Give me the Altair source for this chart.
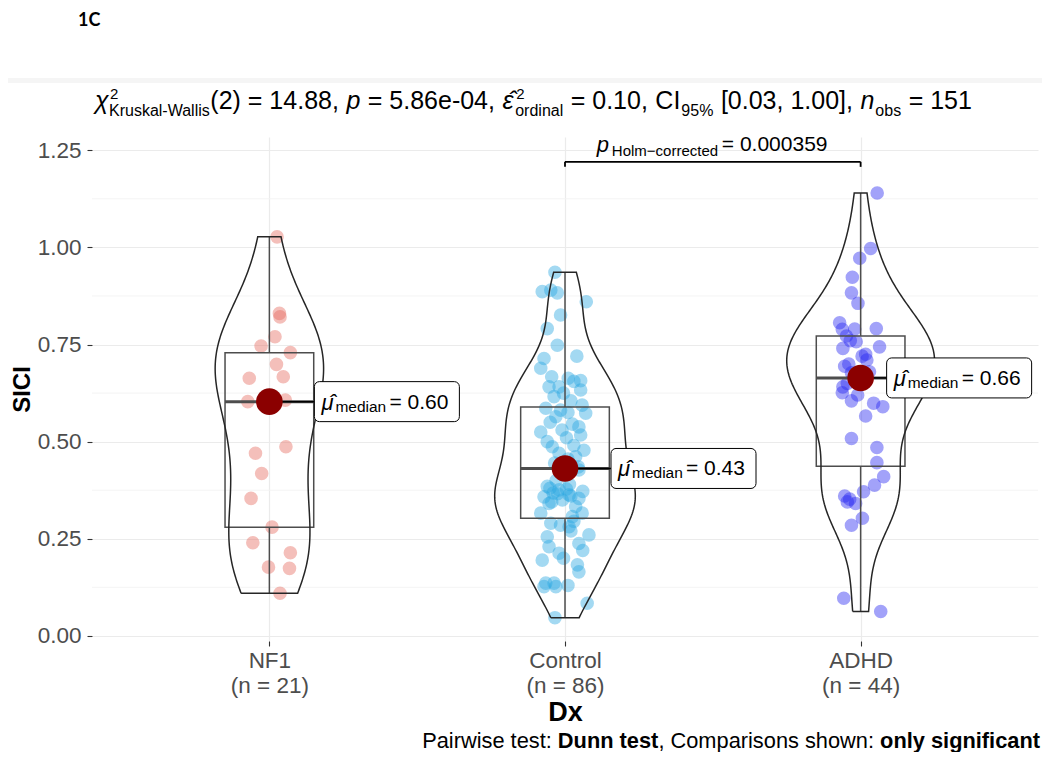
import altair as alt
import numpy as np
import pandas as pd

# ---------------- data ----------------
categories = ["NF1", "Control", "ADHD"]

nf1_sici = [1.027, 0.830, 0.821, 0.770, 0.746, 0.729, 0.699, 0.663, 0.667, 0.603, 0.607,
            0.487, 0.470, 0.418, 0.354, 0.280, 0.240, 0.214, 0.177, 0.174, 0.110]
nf1_jitter = [0.026, 0.034, 0.036, 0.019, -0.028, 0.071, 0.024, -0.068, 0.047, -0.073, 0.054,
              0.056, -0.047, -0.026, -0.062, 0.009, -0.056, 0.071, -0.003, 0.068, 0.036]

control_sici = [0.936, 0.886, 0.890, 0.883, 0.860, 0.826, 0.791, 0.748, 0.714, 0.689, 0.667,
                0.663, 0.657, 0.641, 0.641, 0.633, 0.616, 0.594, 0.655, 0.625, 0.605, 0.720,
                0.586, 0.581, 0.573, 0.564, 0.525, 0.538, 0.517, 0.487, 0.478, 0.461, 0.575,
                0.550, 0.545, 0.530, 0.510, 0.500, 0.490, 0.470, 0.455, 0.445, 0.435,
                0.427, 0.380, 0.376, 0.358, 0.363, 0.354, 0.341, 0.350, 0.316, 0.333, 0.316,
                0.307, 0.400, 0.390, 0.385, 0.372, 0.368, 0.360, 0.366, 0.378, 0.345,
                0.290, 0.281, 0.255, 0.260, 0.238, 0.230, 0.213, 0.195, 0.183, 0.165, 0.136,
                0.136, 0.127, 0.127, 0.084, 0.047, 0.295, 0.285, 0.270, 0.220, 0.200, 0.130]
control_jitter = [-0.034, -0.077, -0.048, -0.026, 0.072, -0.015, -0.060, -0.026, -0.071, -0.082, -0.045,
                  0.011, 0.053, -0.054, -0.020, 0.053, -0.037, 0.058, 0.030, -0.005, 0.020, 0.040,
                  -0.065, -0.015, 0.070, -0.031, -0.082, 0.047, 0.053, -0.043, 0.064, 0.036, 0.010,
                  -0.050, 0.025, -0.010, 0.005, -0.060, 0.030, -0.020, 0.010, -0.035, 0.045,
                  0.047, -0.051, -0.020, -0.071, 0.014, 0.047, -0.054, -0.009, -0.082, 0.036, 0.058,
                  0.025, -0.030, 0.015, -0.060, 0.060, -0.040, 0.020, -0.025, 0.005, -0.045,
                  -0.048, 0.014, -0.060, 0.081, 0.047, -0.054, -0.020, -0.077, 0.042, 0.047, -0.065,
                  -0.037, -0.071, -0.031, 0.075, -0.034, 0.030, -0.015, 0.020, 0.060, -0.005, 0.010]

adhd_sici = [1.140, 0.997, 0.972, 0.923, 0.883, 0.856, 0.806, 0.789, 0.791, 0.772, 0.757,
             0.744, 0.725, 0.710, 0.694, 0.677, 0.700, 0.720, 0.740, 0.760, 0.680, 0.790,
             0.641, 0.626, 0.605, 0.599, 0.590, 0.566, 0.508, 0.485, 0.446, 0.620, 0.650,
             0.410, 0.388, 0.371, 0.360, 0.352, 0.341, 0.303, 0.285, 0.097, 0.063, 0.345]
adhd_jitter = [0.056, 0.034, -0.003, -0.028, -0.031, -0.009, -0.071, -0.062, 0.053, -0.048, -0.015,
               0.064, 0.017, 0.021, -0.054, -0.031, -0.040, 0.005, -0.060, -0.035, 0.030, -0.020,
               -0.060, -0.062, -0.031, 0.044, 0.075, 0.017, -0.031, 0.055, 0.055, -0.010, -0.045,
               0.078, 0.047, 0.010, -0.054, -0.037, -0.017, 0.006, -0.031, -0.057, 0.068, -0.045]

box_q1 = [0.280, 0.303, 0.437]
box_median = [0.603, 0.431, 0.664]
box_q3 = [0.729, 0.589, 0.772]
whisker_low = [0.110, 0.047, 0.063]
whisker_high = [1.027, 0.936, 1.140]

y_ticks = [0.00, 0.25, 0.50, 0.75, 1.00, 1.25]
y_minor = [0.125, 0.375, 0.625, 0.875, 1.125]

pair_groups = ["Control", "ADHD"]
pair_y = [1.220]
pair_p = ["0.000359"]

# ---------------- styling ----------------
FONT = "Liberation Sans"
W, H = 946, 504
XD = [0.4, 3.6]
YD = [-0.013, 1.284]
point_colors = ["#E56A5F", "#29A8E0", "#2828F2"]
label_shift = {"NF1": 45, "Control": 46, "ADHD": 26}
GRID = "#ebebeb"
LBL = 22.5

values_by_group = {"NF1": nf1_sici, "Control": control_sici, "ADHD": adhd_sici}
jitter_by_group = {"NF1": nf1_jitter, "Control": control_jitter, "ADHD": adhd_jitter}
idx = {c: i + 1 for i, c in enumerate(categories)}

rows = []
for c in categories:
    for v, j in zip(values_by_group[c], jitter_by_group[c]):
        rows.append({"Dx": c, "value": v, "xj": idx[c] + j})
pts = pd.DataFrame(rows)

box_df = pd.DataFrame({
    "Dx": categories, "idx": [idx[c] for c in categories],
    "q1": box_q1, "med": box_median, "q3": box_q3, "lo": whisker_low, "hi": whisker_high,
})
box_df["xl"] = box_df["idx"] - 0.15
box_df["xr"] = box_df["idx"] + 0.15
box_df["lab"] = ["= %.2f" % m for m in box_median]


# violin outline: gaussian KDE (bw.nrd0), trimmed to data range, area-scaled
def kde(vals, n=200):
    v = np.asarray(vals, dtype=float)
    sd = v.std(ddof=1)
    q75, q25 = np.percentile(v, [75, 25])
    bw = 0.9 * min(sd, (q75 - q25) / 1.34) * len(v) ** -0.2
    grid = np.linspace(v.min(), v.max(), n)
    dens = np.exp(-0.5 * ((grid[:, None] - v[None, :]) / bw) ** 2).sum(1) / (len(v) * bw * np.sqrt(2 * np.pi))
    return grid, dens


kd = {c: kde(values_by_group[c]) for c in categories}
dmax = max(d.max() for _, d in kd.values())
vrows = []
for c in categories:
    g, d = kd[c]
    half = 0.25 * d / dmax
    k = 0
    for yy, hh in zip(g, half):
        vrows.append({"Dx": c, "y": yy, "x": idx[c] - hh, "o": k}); k += 1
    for yy, hh in zip(g[::-1], half[::-1]):
        vrows.append({"Dx": c, "y": yy, "x": idx[c] + hh, "o": k}); k += 1
    vrows.append({"Dx": c, "y": g[0], "x": idx[c] - half[0], "o": k})
vio = pd.DataFrame(vrows)

counts = {c: len(values_by_group[c]) for c in categories}
expr = "''"
for c in reversed(categories):
    expr = "datum.value == %d ? ['%s', '(n = %d)'] : %s" % (idx[c], c, counts[c], expr)

x_axis = alt.Axis(values=[1, 2, 3], labelExpr=expr, title="Dx", grid=True, gridColor=GRID, gridWidth=1.2,
                  domain=False, ticks=True, tickColor="#333333", tickSize=5, tickWidth=1.1,
                  labelFont=FONT, labelFontSize=LBL, labelColor="#4d4d4d", labelLineHeight=25,
                  labelPadding=3, labelBaseline="top",
                  titleFont=FONT, titleFontSize=27, titleFontWeight="bold", titleColor="black", titlePadding=3)
y_axis = alt.Axis(values=y_ticks, format=".2f", title="SICI", grid=True, gridColor=GRID, gridWidth=1.2,
                  domain=False, ticks=True, tickColor="#333333", tickSize=5, tickWidth=1.1,
                  labelFont=FONT, labelFontSize=LBL, labelColor="#4d4d4d", labelPadding=6,
                  titleFont=FONT, titleFontSize=24, titleFontWeight="bold", titleColor="black", titlePadding=3)


def xs(field):
    return alt.X(field, type="quantitative", scale=alt.Scale(domain=XD, nice=False, zero=False), axis=x_axis)


def ys(field):
    return alt.Y(field, type="quantitative", scale=alt.Scale(domain=YD, nice=False, zero=False), axis=y_axis)


minor = alt.Chart(pd.DataFrame({"m": y_minor})).mark_rule(color="#f3f3f3", strokeWidth=0.9).encode(
    y=ys("m"))

points = alt.Chart(pts).mark_circle(size=185, opacity=0.43).encode(
    x=xs("xj"), y=ys("value"),
    color=alt.Color("Dx:N", scale=alt.Scale(domain=categories, range=point_colors), legend=None))

box_base = alt.Chart(box_df)
box_rect = box_base.mark_rect(fillOpacity=0, stroke="#4d4d4d", strokeWidth=1.5).encode(
    x=xs("xl"), x2="xr", y=ys("q1"), y2="q3")
wlo = box_base.mark_rule(color="#4d4d4d", strokeWidth=1.5).encode(x=xs("idx"), y=ys("lo"), y2="q1")
whi = box_base.mark_rule(color="#4d4d4d", strokeWidth=1.5).encode(x=xs("idx"), y=ys("q3"), y2="hi")
bmed = box_base.mark_rule(color="#4d4d4d", strokeWidth=3).encode(x=xs("xl"), x2="xr", y=ys("med"))

violin = alt.Chart(vio).mark_line(color="#262626", strokeWidth=1.5, interpolate="linear").encode(
    x=xs("x"), y=ys("y"), detail="Dx:N", order=alt.Order("o:Q"))

layers = [minor, points, box_rect, wlo, whi, bmed, violin]

seg_layers, lab_layers = [], []
for c in categories:
    sub = box_base.transform_filter(alt.datum.Dx == c)
    s = label_shift[c]
    seg_layers.append(sub.mark_rule(color="black", strokeWidth=1.5, x2Offset=s).encode(
        x=xs("idx"), x2="idx", y=ys("med")))
    lab_layers.append(sub.mark_rect(fill="white", stroke="black", strokeWidth=1, cornerRadius=5,
                                    xOffset=s, x2Offset=s + 145, yOffset=-20, y2Offset=20).encode(
        x=xs("idx"), x2="idx", y=ys("med"), y2="med"))
    lab_layers.append(sub.mark_text(text="μ\u0302", font=FONT, fontSize=22, fontStyle="italic", align="left",
                                    baseline="alphabetic", dx=s + 7, dy=8, color="black").encode(
        x=xs("idx"), y=ys("med")))
    lab_layers.append(sub.mark_text(text="median", font=FONT, fontSize=15.5, align="left",
                                    baseline="alphabetic", dx=s + 21, dy=10, color="black").encode(
        x=xs("idx"), y=ys("med")))
    lab_layers.append(sub.mark_text(font=FONT, fontSize=21, align="left",
                                    baseline="alphabetic", dx=s + 75, dy=7, color="black").encode(
        x=xs("idx"), y=ys("med"), text="lab:N"))

dots = box_base.mark_circle(size=707, color="#8B0000", opacity=1).encode(x=xs("idx"), y=ys("med"))

layers += seg_layers + [dots] + lab_layers

# significance bracket
br_df = pd.DataFrame({"a": [idx[pair_groups[0]]], "b": [idx[pair_groups[1]]], "y": pair_y, "p": pair_p})
br_df["m"] = (br_df["a"] + br_df["b"]) / 2
br_df["label"] = "= " + br_df["p"]
br = alt.Chart(br_df)
layers.append(br.mark_rule(color="black", strokeWidth=1.8).encode(x=xs("a"), x2="b", y=ys("y")))
layers.append(br.mark_rule(color="black", strokeWidth=1.8, y2Offset=5).encode(x=xs("a"), y=ys("y"), y2="y"))
layers.append(br.mark_rule(color="black", strokeWidth=1.8, y2Offset=5).encode(x=xs("b"), y=ys("y"), y2="y"))
layers.append(br.mark_text(text="p", font=FONT, fontSize=22, fontStyle="italic", align="left",
                           baseline="alphabetic", dx=-116, dy=-10, color="black").encode(x=xs("m"), y=ys("y")))
layers.append(br.mark_text(text="Holm\u2212corrected", font=FONT, fontSize=15, align="left",
                           baseline="alphabetic", dx=-101, dy=-6, color="black").encode(x=xs("m"), y=ys("y")))
layers.append(br.mark_text(font=FONT, fontSize=21, align="left", baseline="alphabetic", dx=9, dy=-11,
                           color="black").encode(x=xs("m"), y=ys("y"), text="label:N"))

# pixel-anchored annotations (title, caption, panel tag)
one = pd.DataFrame({"k": [0]})


def txt(t, x, y, size, style="normal", weight="normal", font=FONT, color="black"):
    return alt.Chart(one).mark_text(text=t, font=font, fontSize=size, fontStyle=style, fontWeight=weight,
                                    align="left", baseline="alphabetic", color=color).encode(
        x=alt.value(x), y=alt.value(y))


# statistical expression laid out as a flow of pieces
S, s = 25.0, 16.0
TB, TS, TP = -28, -21, -38
flow = [
    # (text, em width, role, style)
    ("χ", 0.52, "main", "italic"), ("2|Kruskal-Wallis", 6.333, "supsub", "normal"),
    ("(2) = 14.88,", 5.142, "main", "normal"), (" ", 0.30, "main", "normal"),
    ("p", 0.556, "main", "italic"), (" ", 0.30, "main", "normal"),
    ("= 5.86e-04,", 5.087, "main", "normal"), (" ", 0.30, "main", "normal"),
    ("ε\u0302", 0.47, "main", "italic"), ("2|ordinal", 3.001, "supsub", "normal"), (" ", 0.30, "main", "normal"),
    ("= 0.10,", 3.086, "main", "normal"), (" ", 0.30, "main", "normal"),
    ("CI", 1.0, "main", "normal"), ("95%", 2.001, "sub", "normal"), (" ", 0.30, "main", "normal"),
    ("[0.03, 1.00],", 5.282, "main", "normal"), (" ", 0.30, "main", "normal"),
    ("n", 0.556, "main", "italic"), ("obs", 1.612, "sub", "normal"), (" ", 0.30, "main", "normal"),
    ("= 151", 2.53, "main", "normal"),
]
cur = 3.0
for t, em, role, st in flow:
    if role == "main":
        if t.strip():
            layers.append(txt(t, cur, TB, S, style=st))
        cur += em * S
    elif role == "sub":
        layers.append(txt(t, cur + 1, TS, s, style=st))
        cur += em * s + 1
    else:
        sup, subt = t.split("|")
        layers.append(txt(sup, cur + 2, TP, 15))
        layers.append(txt(subt, cur + 1, TS, s))
        cur += em * s + 1

cs = 21.8
c0 = 948 - 28.34 * cs
CB = 611
layers.append(txt("Pairwise test:", c0, CB, cs))
layers.append(txt("Dunn test", c0 + 6.224 * cs, CB, cs, weight="bold"))
layers.append(txt(", Comparisons shown:", c0 + 10.835 * cs, CB, cs))
layers.append(txt("only significant", c0 + 21.005 * cs, CB, cs, weight="bold"))

layers.append(alt.Chart(one).mark_rect(color="#f5f5f5").encode(
    x=alt.value(-92), x2=alt.value(958), y=alt.value(-59), y2=alt.value(-54)))
layers.append(txt("1C", -14, -111, 18, weight="bold", font="Lato"))

chart = alt.layer(*layers).properties(
    width=W, height=H,
    autosize=alt.AutoSizeParams(type="none"),
    padding={"left": 84, "top": 129, "right": 4, "bottom": 111},
    background="white",
).configure_view(stroke=None)

chart.save("out.html", embed_options={"renderer": "svg", "actions": False})
